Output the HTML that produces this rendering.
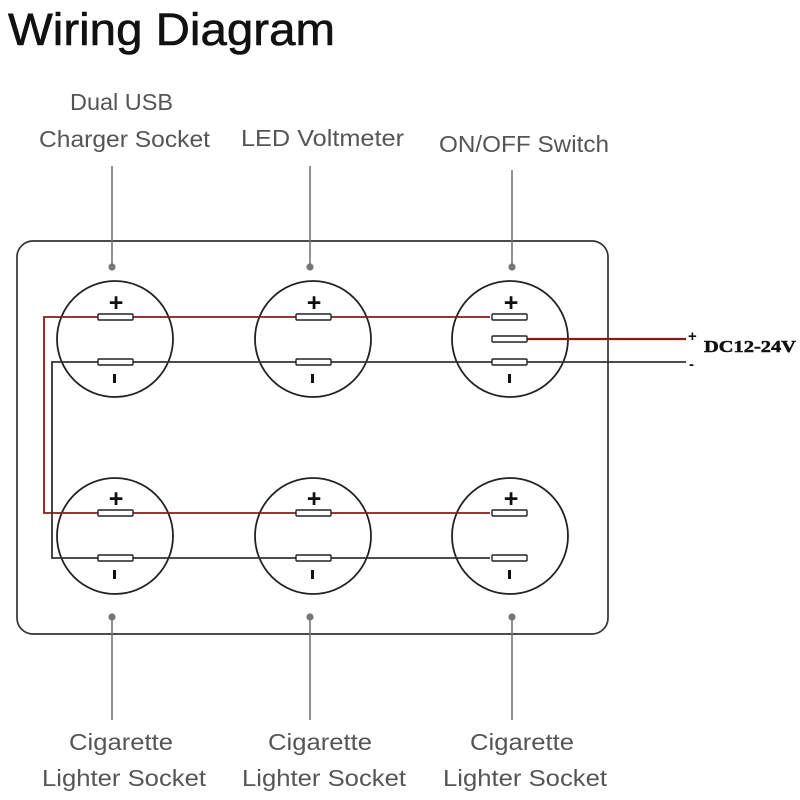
<!DOCTYPE html>
<html><head><style>body{margin:0;background:#fff}svg{display:block}</style></head>
<body>
<svg width="800" height="800" viewBox="0 0 800 800" xmlns="http://www.w3.org/2000/svg">
<text x="8" y="45" font-family="Liberation Sans, sans-serif" font-size="45" fill="#111" stroke="#111" stroke-width="0.6" textLength="327" lengthAdjust="spacingAndGlyphs">Wiring Diagram</text>
<g font-family="Liberation Sans, sans-serif" font-size="23" fill="#555">
<text x="70" y="110" textLength="103" lengthAdjust="spacingAndGlyphs">Dual USB</text>
<text x="39" y="147" textLength="171" lengthAdjust="spacingAndGlyphs">Charger Socket</text>
<text x="241" y="146" textLength="163" lengthAdjust="spacingAndGlyphs">LED Voltmeter</text>
<text x="439" y="152" textLength="170" lengthAdjust="spacingAndGlyphs">ON/OFF Switch</text>
<text x="69" y="750" textLength="104" lengthAdjust="spacingAndGlyphs">Cigarette</text>
<text x="42" y="786" textLength="164" lengthAdjust="spacingAndGlyphs">Lighter Socket</text>
<text x="268" y="750" textLength="104" lengthAdjust="spacingAndGlyphs">Cigarette</text>
<text x="242" y="786" textLength="164" lengthAdjust="spacingAndGlyphs">Lighter Socket</text>
<text x="470" y="750" textLength="104" lengthAdjust="spacingAndGlyphs">Cigarette</text>
<text x="443" y="786" textLength="164" lengthAdjust="spacingAndGlyphs">Lighter Socket</text>
</g>
<rect x="17" y="241" width="591" height="393" rx="16" fill="none" stroke="#333" stroke-width="1.7"/>
<g stroke="#777" stroke-width="1.6" fill="#777">
<line x1="112" y1="166" x2="112" y2="267"/><circle cx="112" cy="267" r="2.8"/>
<line x1="310" y1="166" x2="310" y2="267"/><circle cx="310" cy="267" r="2.8"/>
<line x1="512" y1="170" x2="512" y2="267"/><circle cx="512" cy="267" r="2.8"/>
<line x1="112" y1="617" x2="112" y2="720"/><circle cx="112" cy="617" r="2.8"/>
<line x1="310" y1="617" x2="310" y2="720"/><circle cx="310" cy="617" r="2.8"/>
<line x1="512" y1="617" x2="512" y2="720"/><circle cx="512" cy="617" r="2.8"/>
</g>
<g fill="none" stroke="#222" stroke-width="1.8">
<circle cx="115" cy="339" r="58"/><circle cx="313" cy="339" r="58"/><circle cx="510" cy="339" r="58"/>
<circle cx="115" cy="536" r="58"/><circle cx="313" cy="536" r="58"/><circle cx="510" cy="536" r="58"/>
</g>
<g fill="none" stroke-width="1.8">
<polyline points="490,317 44,317 44,513 490,513" stroke="#8b1a1a"/>
<polyline points="686,362 52,362 52,558 490,558" stroke="#333"/>
<line x1="527" y1="339" x2="686" y2="339" stroke="#8b1a1a" stroke-width="2.2"/>
</g>
<g fill="#fff" stroke="#222" stroke-width="1.4">
<rect x="98" y="314" width="35" height="6" rx="1"/><rect x="98" y="359" width="35" height="6" rx="1"/>
<rect x="296" y="314" width="35" height="6" rx="1"/><rect x="296" y="359" width="35" height="6" rx="1"/>
<rect x="492" y="314" width="35" height="6" rx="1"/><rect x="492" y="336" width="35" height="6" rx="1"/><rect x="492" y="359" width="35" height="6" rx="1"/>
<rect x="98" y="510" width="35" height="6" rx="1"/><rect x="98" y="555" width="35" height="6" rx="1"/>
<rect x="296" y="510" width="35" height="6" rx="1"/><rect x="296" y="555" width="35" height="6" rx="1"/>
<rect x="492" y="510" width="35" height="6" rx="1"/><rect x="492" y="555" width="35" height="6" rx="1"/>
</g>
<g fill="#111" font-family="Liberation Sans, sans-serif" font-weight="bold" text-anchor="middle">
<text x="116" y="311" font-size="25">+</text><text x="314" y="311" font-size="25">+</text><text x="511" y="311" font-size="25">+</text>
<text x="116" y="507" font-size="25">+</text><text x="314" y="507" font-size="25">+</text><text x="511" y="507" font-size="25">+</text>
</g>
<g fill="#111">
<rect x="113" y="374" width="3" height="9"/><rect x="311" y="374" width="3" height="9"/><rect x="508" y="374" width="3" height="9"/>
<rect x="113" y="570" width="3" height="9"/><rect x="311" y="570" width="3" height="9"/><rect x="508" y="570" width="3" height="9"/>
</g>
<text x="688" y="341" font-family="Liberation Sans, sans-serif" font-size="15" font-weight="bold" fill="#111">+</text>
<text x="689" y="369" font-family="Liberation Sans, sans-serif" font-size="15" font-weight="bold" fill="#111">-</text>
<text x="704" y="352" font-family="Liberation Serif, serif" font-size="17" font-weight="bold" fill="#111" stroke="#111" stroke-width="0.5" textLength="92" lengthAdjust="spacingAndGlyphs">DC12-24V</text>
</svg>
</body></html>
